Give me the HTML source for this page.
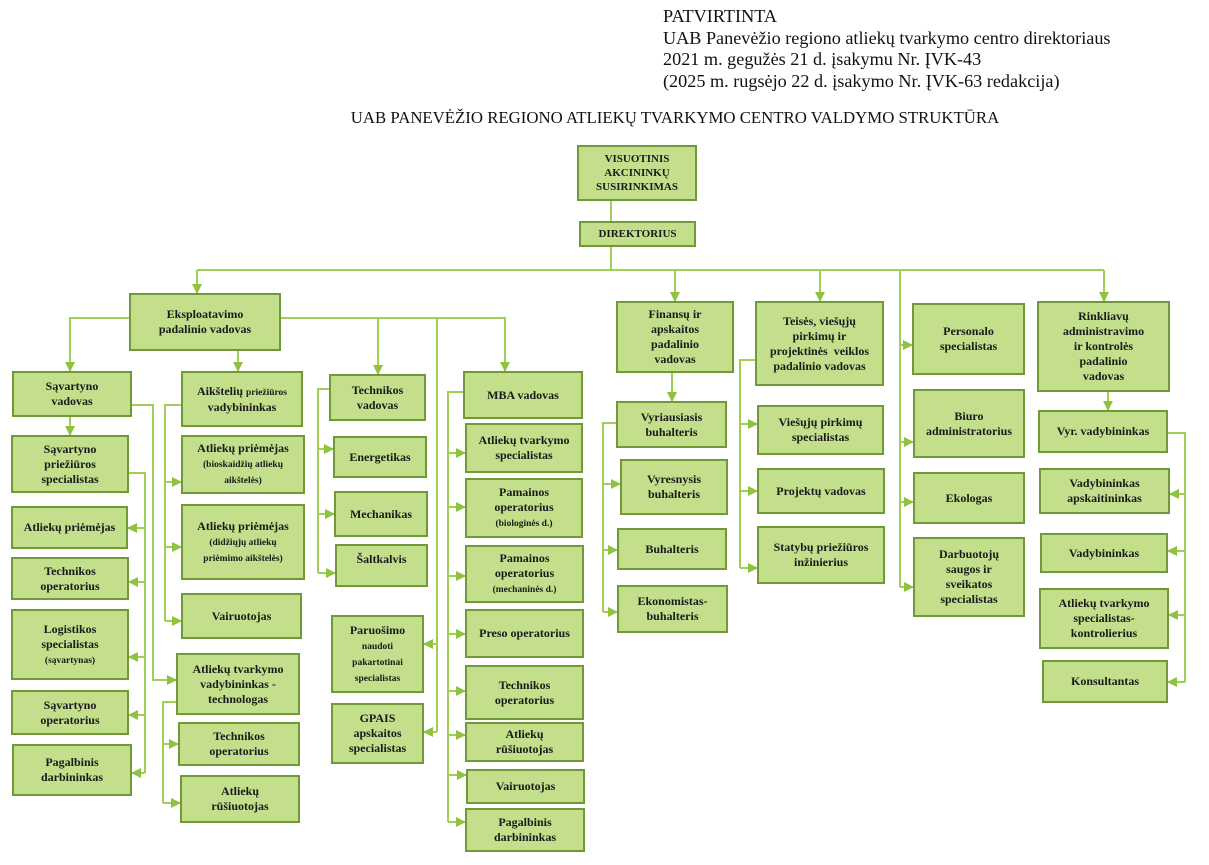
<!DOCTYPE html>
<html><head><meta charset="utf-8"><style>
body{margin:0;width:1209px;height:865px;background:#fff;position:relative;overflow:hidden;font-family:"Liberation Serif",serif}
.h{position:absolute;left:663px;font-size:18.2px;line-height:21.7px;top:6px;color:#111}
.t{position:absolute;left:0;width:1350px;text-align:center;top:108px;font-size:16.8px;color:#111}
.b{position:absolute;box-sizing:border-box;background:#c3df8c;border:2.5px solid #6f9a35;display:flex;align-items:center;justify-content:center;text-align:center;font-weight:bold;font-size:12px;line-height:15px;color:#1a1a1a}
.s{font-size:9.5px;line-height:13px}
svg{position:absolute;left:0;top:0}
</style></head><body>
<div class="h">PATVIRTINTA<br>UAB Panevėžio regiono atliekų tvarkymo centro direktoriaus<br>2021 m. gegužės 21 d. įsakymu Nr. ĮVK-43<br>(2025 m. rugsėjo 22 d. įsakymo Nr. ĮVK-63 redakcija)</div>
<div class="t">UAB PANEVĖŽIO REGIONO ATLIEKŲ TVARKYMO CENTRO VALDYMO STRUKTŪRA</div>
<svg width="1209" height="865">
<defs><marker id="a" markerWidth="12" markerHeight="12" refX="9" refY="5" orient="auto" markerUnits="userSpaceOnUse"><path d="M0,0 L10,5 L0,10 z" fill="#8fc23f"/></marker></defs>
<g stroke="#9fcf55" stroke-width="2" fill="none">
<path d="M611,201V221"/><path d="M611,247V270"/>
<path d="M197,270H1104"/>
<path d="M197,270V293" marker-end="url(#a)"/>
<path d="M675,270V301" marker-end="url(#a)"/>
<path d="M820,270V301" marker-end="url(#a)"/>
<path d="M1104,270V301" marker-end="url(#a)"/>
<path d="M900,270V587"/>
<path d="M900,345H912" marker-end="url(#a)"/><path d="M900,442H913" marker-end="url(#a)"/><path d="M900,502H913" marker-end="url(#a)"/><path d="M900,587H913" marker-end="url(#a)"/>
<path d="M672,373V401" marker-end="url(#a)"/>
<path d="M616,423H603V612"/>
<path d="M603,484H620" marker-end="url(#a)"/><path d="M603,550H617" marker-end="url(#a)"/><path d="M603,612H617" marker-end="url(#a)"/>
<path d="M755,360H740V568"/>
<path d="M740,424H757" marker-end="url(#a)"/><path d="M740,491H757" marker-end="url(#a)"/><path d="M740,568H757" marker-end="url(#a)"/>
<path d="M1108,392V410" marker-end="url(#a)"/>
<path d="M1168,433H1185V682"/>
<path d="M1185,494H1170" marker-end="url(#a)"/><path d="M1185,551H1168" marker-end="url(#a)"/><path d="M1185,615H1169" marker-end="url(#a)"/><path d="M1185,682H1168" marker-end="url(#a)"/>
<path d="M129,318H70V371" marker-end="url(#a)"/>
<path d="M238,351V371" marker-end="url(#a)"/>
<path d="M281,318H505V371" marker-end="url(#a)"/>
<path d="M378,318V374" marker-end="url(#a)"/>
<path d="M437,318V732"/>
<path d="M437,644H424" marker-end="url(#a)"/><path d="M437,732H424" marker-end="url(#a)"/>
<path d="M70,417V435" marker-end="url(#a)"/>
<path d="M128,405H153V680H176" marker-end="url(#a)"/>
<path d="M129,473H145V773"/>
<path d="M145,528H128" marker-end="url(#a)"/><path d="M145,582H129" marker-end="url(#a)"/><path d="M145,657H129" marker-end="url(#a)"/><path d="M145,715H129" marker-end="url(#a)"/><path d="M145,773H132" marker-end="url(#a)"/>
<path d="M181,405H165V621"/>
<path d="M165,482H181" marker-end="url(#a)"/><path d="M165,547H181" marker-end="url(#a)"/><path d="M165,621H181" marker-end="url(#a)"/>
<path d="M176,702H163V803"/>
<path d="M163,744H178" marker-end="url(#a)"/><path d="M163,803H180" marker-end="url(#a)"/>
<path d="M329,389H318V573"/>
<path d="M318,449H333" marker-end="url(#a)"/><path d="M318,514H334" marker-end="url(#a)"/><path d="M318,573H335" marker-end="url(#a)"/>
<path d="M463,392H448V822"/>
<path d="M448,453H465" marker-end="url(#a)"/><path d="M448,507H465" marker-end="url(#a)"/><path d="M448,576H465" marker-end="url(#a)"/><path d="M448,634H465" marker-end="url(#a)"/><path d="M448,691H465" marker-end="url(#a)"/><path d="M448,735H465" marker-end="url(#a)"/><path d="M448,775H466" marker-end="url(#a)"/><path d="M448,822H465" marker-end="url(#a)"/>
</g></svg>
<div class="b" style="left:577px;top:145px;width:120px;height:56px;font-size:11px;line-height:14px">VISUOTINIS<br>AKCININKŲ<br>SUSIRINKIMAS</div>
<div class="b" style="left:579px;top:221px;width:117px;height:26px;font-size:11px">DIREKTORIUS</div>
<div class="b" style="left:129px;top:293px;width:152px;height:58px">Eksploatavimo<br>padalinio vadovas</div>
<div class="b" style="left:12px;top:371px;width:120px;height:46px">Sąvartyno<br>vadovas</div>
<div class="b" style="left:181px;top:371px;width:122px;height:56px"><div>Aikštelių <span class="s">priežiūros</span><br>vadybininkas</div></div>
<div class="b" style="left:329px;top:374px;width:97px;height:47px">Technikos<br>vadovas</div>
<div class="b" style="left:463px;top:371px;width:120px;height:48px">MBA vadovas</div>
<div class="b" style="left:616px;top:301px;width:118px;height:72px">Finansų ir<br>apskaitos<br>padalinio<br>vadovas</div>
<div class="b" style="left:755px;top:301px;width:129px;height:85px">Teisės, viešųjų<br>pirkimų ir<br>projektinės &nbsp;veiklos<br>padalinio vadovas</div>
<div class="b" style="left:912px;top:303px;width:113px;height:72px">Personalo<br>specialistas</div>
<div class="b" style="left:1037px;top:301px;width:133px;height:91px">Rinkliavų<br>administravimo<br>ir kontrolės<br>padalinio<br>vadovas</div>
<div class="b" style="left:11px;top:435px;width:118px;height:58px">Sąvartyno<br>priežiūros<br>specialistas</div>
<div class="b" style="left:11px;top:506px;width:117px;height:43px">Atliekų priėmėjas</div>
<div class="b" style="left:11px;top:557px;width:118px;height:43px">Technikos<br>operatorius</div>
<div class="b" style="left:11px;top:609px;width:118px;height:71px"><div>Logistikos<br>specialistas<br><span class="s">(sąvartynas)</span></div></div>
<div class="b" style="left:11px;top:690px;width:118px;height:45px">Sąvartyno<br>operatorius</div>
<div class="b" style="left:12px;top:744px;width:120px;height:52px">Pagalbinis<br>darbininkas</div>
<div class="b" style="left:181px;top:435px;width:124px;height:59px"><div>Atliekų priėmėjas<br><span class="s">(bioskaidžių atliekų<br>aikštelės)</span></div></div>
<div class="b" style="left:181px;top:504px;width:124px;height:76px"><div>Atliekų priėmėjas<br><span class="s">(didžiųjų atliekų<br>priėmimo aikštelės)</span></div></div>
<div class="b" style="left:181px;top:593px;width:121px;height:46px">Vairuotojas</div>
<div class="b" style="left:176px;top:653px;width:124px;height:62px">Atliekų tvarkymo<br>vadybininkas -<br>technologas</div>
<div class="b" style="left:178px;top:722px;width:122px;height:44px">Technikos<br>operatorius</div>
<div class="b" style="left:180px;top:775px;width:120px;height:48px">Atliekų<br>rūšiuotojas</div>
<div class="b" style="left:333px;top:436px;width:94px;height:42px">Energetikas</div>
<div class="b" style="left:334px;top:491px;width:94px;height:46px">Mechanikas</div>
<div class="b" style="left:335px;top:544px;width:93px;height:43px;align-items:flex-start;padding-top:6px">Šaltkalvis</div>
<div class="b" style="left:331px;top:615px;width:93px;height:78px"><div>Paruošimo<br><span class="s">naudoti<br>pakartotinai<br>specialistas</span></div></div>
<div class="b" style="left:331px;top:703px;width:93px;height:61px">GPAIS<br>apskaitos<br>specialistas</div>
<div class="b" style="left:465px;top:423px;width:118px;height:50px">Atliekų tvarkymo<br>specialistas</div>
<div class="b" style="left:465px;top:478px;width:118px;height:60px"><div>Pamainos<br>operatorius<br><span class="s">(biologinės d.)</span></div></div>
<div class="b" style="left:465px;top:545px;width:119px;height:58px"><div>Pamainos<br>operatorius<br><span class="s">(mechaninės d.)</span></div></div>
<div class="b" style="left:465px;top:609px;width:119px;height:49px">Preso operatorius</div>
<div class="b" style="left:465px;top:665px;width:119px;height:55px">Technikos<br>operatorius</div>
<div class="b" style="left:465px;top:722px;width:119px;height:40px">Atliekų<br>rūšiuotojas</div>
<div class="b" style="left:466px;top:769px;width:119px;height:35px">Vairuotojas</div>
<div class="b" style="left:465px;top:808px;width:120px;height:44px">Pagalbinis<br>darbininkas</div>
<div class="b" style="left:616px;top:401px;width:111px;height:47px">Vyriausiasis<br>buhalteris</div>
<div class="b" style="left:620px;top:459px;width:108px;height:56px">Vyresnysis<br>buhalteris</div>
<div class="b" style="left:617px;top:528px;width:110px;height:42px">Buhalteris</div>
<div class="b" style="left:617px;top:585px;width:111px;height:48px">Ekonomistas-<br>buhalteris</div>
<div class="b" style="left:757px;top:405px;width:127px;height:50px">Viešųjų pirkimų<br>specialistas</div>
<div class="b" style="left:757px;top:468px;width:128px;height:46px">Projektų vadovas</div>
<div class="b" style="left:757px;top:526px;width:128px;height:58px">Statybų priežiūros<br>inžinierius</div>
<div class="b" style="left:913px;top:389px;width:112px;height:69px">Biuro<br>administratorius</div>
<div class="b" style="left:913px;top:472px;width:112px;height:52px">Ekologas</div>
<div class="b" style="left:913px;top:537px;width:112px;height:80px">Darbuotojų<br>saugos ir<br>sveikatos<br>specialistas</div>
<div class="b" style="left:1038px;top:410px;width:130px;height:43px">Vyr. vadybininkas</div>
<div class="b" style="left:1039px;top:468px;width:131px;height:46px">Vadybininkas<br>apskaitininkas</div>
<div class="b" style="left:1040px;top:533px;width:128px;height:40px">Vadybininkas</div>
<div class="b" style="left:1039px;top:588px;width:130px;height:61px">Atliekų tvarkymo<br>specialistas-<br>kontrolierius</div>
<div class="b" style="left:1042px;top:660px;width:126px;height:43px">Konsultantas</div>
</body></html>
